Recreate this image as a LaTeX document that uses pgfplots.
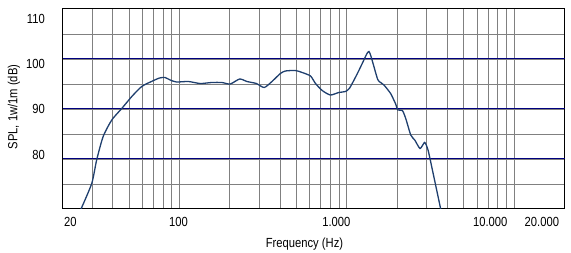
\documentclass[border=0pt]{standalone}
\usepackage{pgfplots}
\pgfplotsset{compat=1.18}
\usepackage{fontspec}
\setmainfont{Liberation Sans}[FakeStretch=0.85]
\definecolor{curve}{HTML}{1F3F6E}
\definecolor{navyline}{HTML}{00007F}
\definecolor{gridgray}{HTML}{808080}
\pgfplotstableread{
f db
25.8 70.0
29.9 75.1
32 79.8
35 84.5
39.4 87.8
45.2 90.1
51.9 92.5
59.5 94.5
68 95.5
76 96.2
82 96.3
88 95.8
96 95.4
113 95.5
133 95.1
156 95.3
179 95.3
201 95.0
229 96.0
253 95.5
288 95.1
321 94.3
357 95.5
401 97.1
430 97.6
493 97.7
541 97.3
607 96.6
650 95.1
713 93.7
798 92.8
895 93.3
982 93.5
1040 94.2
1153 97.0
1265 99.8
1320 101.1
1356 101.5
1390 100.7
1452 98.5
1495 97.0
1530 95.9
1560 95.5
1667 94.8
1828 93.1
1910 91.8
1959 91.0
2020 89.8
2148 89.7
2250 88.1
2411 84.8
2547 83.8
2741 82.1
2919 83.3
3058 81.8
3248 77.8
3444 73.8
3640 70.0
}\spl
\begin{document}
\begin{tikzpicture}[x=1pt,y=1pt]
\path[use as bounding box] (0,0) rectangle (571,252);
\begin{axis}[
 at={(62.5pt,43pt)}, anchor=south west,
 scale only axis, width=502pt, height=200pt,
 xmode=log, xmin=20, xmax=20000, ymin=70, ymax=110,
 xtick={22.3,98.6,867,7195,14650},
 xticklabels={20,100,1.000,10.000,20.000},
 ytick={108.1,99.1,90,80.9},
 yticklabels={110,100,90,80},
 minor xtick={30,40,50,60,70,80,90,100,200,300,400,500,600,700,800,900,1000,2000,3000,4000,5000,6000,7000,8000,9000,10000},
 minor ytick={75,80,85,90,95,100,105},
 extra y ticks={80,90,100}, extra y tick labels={},
 extra y tick style={ymajorgrids=true, major grid style={navyline, line width=1pt}},
 xminorgrids, yminorgrids,
 minor grid style={gridgray, line width=0.9pt},
 major tick length=0pt, minor tick length=0pt,
 axis line style={black, line width=1pt},
 tick label style={font=\fontsize{13.2}{14}\selectfont, inner sep=0pt},
 xticklabel style={anchor=base, yshift=-17.7pt},
 yticklabel style={anchor=east, xshift=-17.5pt},
 xlabel={Frequency (Hz)}, ylabel={SPL, 1w/1m (dB)},
 label style={font=\fontsize{13.2}{14}\selectfont},
 xlabel style={at={(axis description cs:0.482,-0.175)}, anchor=center},
 ylabel style={at={(axis description cs:-0.0966,0.51)}, anchor=center},
]
\addplot[curve, line width=1.3pt, smooth, tension=0.4] table[x=f,y=db] {\spl};
\end{axis}
\end{tikzpicture}
\end{document}
